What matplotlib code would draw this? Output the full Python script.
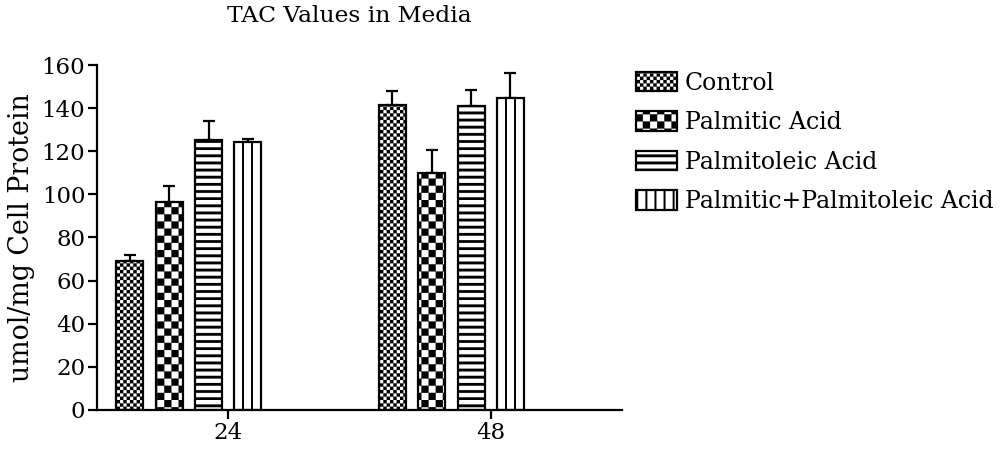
import numpy as np
import matplotlib
matplotlib.use("Agg")
import matplotlib.pyplot as plt
import matplotlib.hatch as mhatch
from matplotlib.path import Path
from matplotlib.patches import Patch

# ---------------- data ----------------
time_labels = ["24", "48"]
series_names = ["Control", "Palmitic Acid", "Palmitoleic Acid", "Palmitic+Palmitoleic Acid"]
control = [69.0, 141.3]
palmitic = [96.5, 110.0]
palmitoleic = [125.0, 141.0]
combined = [124.3, 144.6]
control_err = [3.0, 6.8]
palmitic_err = [7.3, 10.4]
palmitoleic_err = [9.0, 7.6]
combined_err = [1.3, 11.7]
yticks = [0, 20, 40, 60, 80, 100, 120, 140, 160]
title = "TAC Values in Media"
ylabel = "umol/mg Cell Protein"

# ---------------- custom filled hatch patterns ----------------
class _RectPattern(mhatch.HatchPatternBase):
    key = None

    def __init__(self, hatch, density):
        self.rects = self.make_rects() if (hatch and self.key in hatch) else []
        self.num_vertices = len(self.rects) * 5

    def set_vertices_and_codes(self, vertices, codes):
        for k, (x0, y0, x1, y1) in enumerate(self.rects):
            vertices[5 * k:5 * k + 5] = [(x0, y0), (x1, y0), (x1, y1), (x0, y1), (x0, y0)]
            codes[5 * k:5 * k + 5] = [Path.MOVETO, Path.LINETO, Path.LINETO,
                                      Path.LINETO, Path.CLOSEPOLY]


def _checker(n):
    s = 1.0 / n
    return [(i * s, j * s, (i + 1) * s, (j + 1) * s)
            for i in range(n) for j in range(n) if (i + j) % 2 == 0]


class FineChecker(_RectPattern):
    key = "."
    def make_rects(self):
        return _checker(30)


class CoarseChecker(_RectPattern):
    key = "o"
    def make_rects(self):
        return _checker(14)


class HLines(_RectPattern):
    key = "-"
    def make_rects(self):
        n = 14
        s = 1.0 / n
        t = 0.38 * s
        return [(0.0, j * s, 1.0, j * s + t) for j in range(n)]


class VLines(_RectPattern):
    key = "|"
    def make_rects(self):
        n = 11
        s = 1.0 / n
        t = 0.2 * s
        return [(i * s, 0.0, i * s + t, 1.0) for i in range(n)]


mhatch._hatch_types = [FineChecker, CoarseChecker, HLines, VLines]

# ---------------- style ----------------
plt.rcParams["font.family"] = ["DejaVu Serif"]
plt.rcParams["hatch.linewidth"] = 0.1
plt.rcParams["hatch.color"] = "black"

fig = plt.figure(figsize=(10, 4.53), dpi=100)
ax = fig.add_axes([0.097, 0.095, 0.525, 0.7615])

series = [control, palmitic, palmitoleic, combined]
errors = [control_err, palmitic_err, palmitoleic_err, combined_err]
hatches = [".", "o", "-", None]
offsets = [-0.375, -0.225, -0.075, 0.075]
bar_w = 0.103
x = np.arange(len(time_labels))

for vals, errs, h, off in zip(series, errors, hatches, offsets):
    xs = x + off
    ax.errorbar(xs, vals, yerr=[np.zeros(len(errs)), errs], fmt="none",
                ecolor="black", elinewidth=1.6, capsize=4.6, capthick=1.6, zorder=1)
    bars = ax.bar(xs, vals, width=bar_w, facecolor="white", edgecolor="black",
                  linewidth=1.6, hatch=h, zorder=2)
    if h is None:
        for b in bars:
            bx, bw, bh = b.get_x(), b.get_width(), b.get_height()
            ax.vlines([bx + bw / 3, bx + 2 * bw / 3], 0, bh, colors="black",
                      linewidth=1.4, zorder=3)

ax.set_xlim(-0.5, 1.5)
ax.set_ylim(0, 160)
ax.set_yticks(yticks)
ax.set_xticks(x)
ax.set_xticklabels(time_labels)
for s in ["top", "right"]:
    ax.spines[s].set_visible(False)
for s in ["left", "bottom"]:
    ax.spines[s].set_linewidth(1.6)
ax.tick_params(axis="both", direction="out", length=6.5, width=1.6,
               labelsize=16.5, pad=2)
ax.set_ylabel(ylabel, fontsize=19.3, labelpad=5)
ax.set_title(title, fontsize=16.8, pad=31, x=0.48)

handles = [Patch(facecolor="white", edgecolor="black", linewidth=1.6,
                 hatch=h if h else "|", label=n)
           for h, n in zip(hatches, series_names)]
fig.legend(handles=handles, loc="upper left", bbox_to_anchor=(0.636, 0.842),
           frameon=False, fontsize=17.0, handlelength=1.73, handleheight=0.87,
           handletextpad=0.33, labelspacing=0.7, borderpad=0, borderaxespad=0)

fig.savefig("out.png", dpi=100)
